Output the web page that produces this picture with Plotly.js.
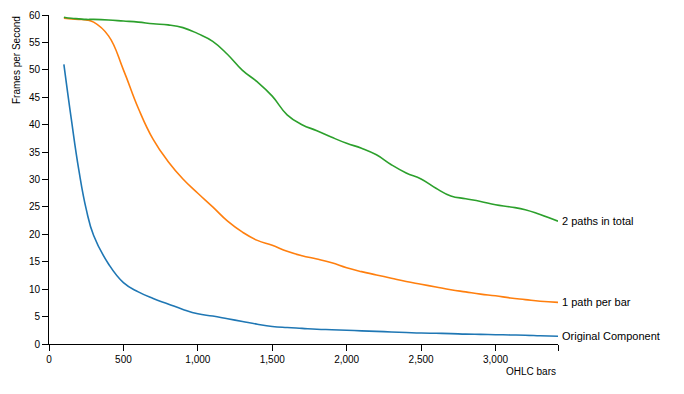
<!DOCTYPE html>
<html>
<head>
<meta charset="utf-8">
<script src="https://cdn.plot.ly/plotly-3.0.1.min.js"></script>
<style>html,body{margin:0;padding:0;background:#fff;}#chart{width:684px;height:394px;}</style>
</head>
<body>
<div id="chart"></div>
<script>
var bars = [100,150,200,250,300,400,500,600,700,800,900,1000,1100,1200,1300,1400,1500,1600,1700,1800,1900,2000,2100,2200,2300,2400,2500,2600,2700,2800,2900,3000,3100,3200,3300,3420];
var originalComponent = [51.0,41.0,31.8,24.6,19.8,14.6,11.2,9.5,8.3,7.3,6.3,5.5,5.1,4.6,4.1,3.6,3.2,3.0,2.85,2.7,2.6,2.5,2.4,2.3,2.2,2.1,2.0,1.95,1.9,1.8,1.75,1.7,1.65,1.6,1.5,1.4];
var onePathPerBar = [59.4,59.3,59.2,59.1,58.7,56.2,50.0,43.0,37.3,33.3,30.1,27.5,25.0,22.4,20.4,18.9,18.0,16.9,16.1,15.5,14.8,13.9,13.2,12.6,12.0,11.4,10.9,10.4,9.9,9.5,9.1,8.8,8.4,8.1,7.8,7.6];
var twoPathsInTotal = [59.6,59.4,59.3,59.2,59.2,59.1,58.9,58.7,58.4,58.2,57.7,56.6,55.2,52.8,49.9,47.8,45.2,41.8,40.0,38.9,37.7,36.6,35.7,34.5,32.7,31.2,30.1,28.4,27.0,26.5,26.0,25.4,25.0,24.5,23.6,22.4];
var seriesNames = ["Original Component","1 path per bar","2 paths in total"];
var seriesColors = ["#1f77b4","#ff7f0e","#2ca02c"];
var xTickVals = [0,500,1000,1500,2000,2500,3000,3420];
var xTickText = ["0","500","1,000","1,500","2,000","2,500","3,000",""];
var yTickVals = [0,5,10,15,20,25,30,35,40,45,50,55,60];
var xTitle = "OHLC bars";
var yTitle = "Frames per Second";

var FONT = "Liberation Sans, Arial, sans-serif";
var allY = [originalComponent, onePathPerBar, twoPathsInTotal];
var traces = allY.map(function(ys, i){
  return {x: bars, y: ys, mode: "lines", name: seriesNames[i],
    line: {color: seriesColors[i], width: 1.6, shape: "spline", smoothing: 1.3},
    hoverinfo: "skip"};
});
var anns = allY.map(function(ys, i){
  return {x: bars[bars.length-1], y: ys[ys.length-1], xref: "x", yref: "y",
    text: seriesNames[i], showarrow: false, xanchor: "left", yanchor: "middle", xshift: 2,
    font: {family: FONT, size: 11, color: "#000"}};
});
anns.push({x: 0, y: 1, xref: "paper", yref: "paper", text: yTitle, textangle: -90,
  showarrow: false, xanchor: "center", yanchor: "top", xshift: -33, yshift: 1,
  font: {family: FONT, size: 10, color: "#000"}});
anns.push({x: 1, y: -0.085, xref: "paper", yref: "paper", text: xTitle,
  showarrow: false, xanchor: "right", yanchor: "middle",
  font: {family: FONT, size: 10, color: "#000"}});

var layout = {
  width: 684, height: 394,
  margin: {l: 49, r: 126, t: 15, b: 50, pad: 0},
  paper_bgcolor: "#fff", plot_bgcolor: "#fff",
  showlegend: false,
  font: {family: FONT, size: 10, color: "#000"},
  xaxis: {range: [0, 3420], tickvals: xTickVals, ticktext: xTickText,
    showgrid: false, zeroline: false, showline: true, linecolor: "#000", linewidth: 1,
    ticks: "outside", ticklen: 6, tickcolor: "#000", tickwidth: 1,
    tickfont: {family: FONT, size: 10, color: "#000"}},
  yaxis: {range: [0, 60], tickvals: yTickVals,
    showgrid: false, zeroline: false, showline: true, linecolor: "#000", linewidth: 1,
    ticks: "outside", ticklen: 6, tickcolor: "#000", tickwidth: 1,
    tickfont: {family: FONT, size: 10, color: "#000"}},
  annotations: anns
};
Plotly.newPlot("chart", traces, layout, {displayModeBar: false, staticPlot: true});
</script>
</body>
</html>
